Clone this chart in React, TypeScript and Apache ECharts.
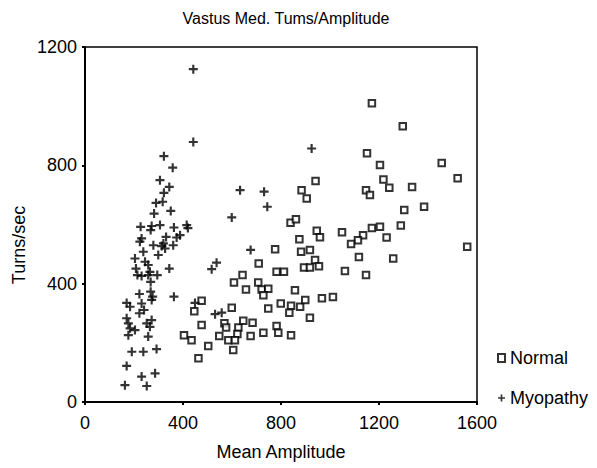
import React, { useEffect, useRef } from "react";
import * as echarts from "echarts";

const titleText = "Vastus Med. Tums/Amplitude";
const xName = "Mean Amplitude";
const yName = "Turns/sec";
const xTicks = [0, 400, 800, 1200, 1600];
const yTicks = [0, 400, 800, 1200];

const normal: number[][] = [
  [941, 747], [884, 716], [905, 688], [839, 606], [861, 618], [946, 579],
  [875, 550], [882, 508], [918, 514], [939, 480], [894, 455], [918, 455],
  [776, 516], [709, 468], [782, 440], [812, 440], [643, 429], [608, 404],
  [707, 404], [657, 380], [721, 380], [748, 383], [728, 361], [857, 378],
  [476, 342], [446, 307], [599, 319], [748, 316], [799, 333], [841, 325],
  [834, 302], [878, 322], [899, 345], [918, 285], [476, 260], [569, 266],
  [576, 252], [626, 252], [646, 275], [684, 268], [782, 257], [789, 234],
  [841, 226], [728, 234], [676, 223], [622, 230], [548, 223], [404, 226],
  [435, 209], [503, 189], [585, 209], [612, 209], [605, 176], [463, 148],
  [1297, 932], [1456, 808], [1521, 756], [1218, 752], [1242, 724], [1335, 727],
  [1204, 801], [1303, 649], [1384, 660], [1289, 597], [1231, 556], [1560, 525],
  [1258, 485], [1171, 1010], [1151, 841], [1147, 716], [1163, 700], [1171, 588],
  [1135, 564], [1114, 547], [1049, 574], [1086, 534], [1118, 490], [1061, 443],
  [1147, 429], [959, 557], [1012, 355], [967, 351], [955, 459], [1204, 592],
];

const myopathy: number[][] = [
  [442, 1125], [442, 879], [322, 831], [358, 792], [306, 750], [344, 727],
  [322, 707], [317, 677], [290, 673], [282, 637], [350, 646], [227, 592],
  [272, 595], [306, 598], [268, 581], [363, 590], [415, 598], [420, 588],
  [231, 553], [224, 542], [331, 558], [388, 564], [374, 556], [279, 530],
  [313, 527], [327, 519], [360, 530], [320, 536], [299, 497], [238, 508],
  [204, 485], [245, 474], [208, 451], [258, 463], [214, 429], [231, 426],
  [258, 429], [265, 440], [295, 429], [344, 451], [268, 406], [222, 365],
  [268, 373], [276, 356], [272, 345], [363, 356], [170, 335], [184, 322],
  [231, 333], [222, 300], [241, 311], [170, 283], [177, 266], [184, 249],
  [204, 243], [177, 226], [252, 266], [272, 277], [265, 254], [258, 221],
  [191, 170], [238, 170], [292, 179], [170, 122], [286, 97], [231, 86],
  [163, 57], [252, 54], [925, 857], [633, 716], [731, 711], [744, 660],
  [599, 624], [676, 514], [537, 471], [517, 449], [449, 335], [531, 297],
  [558, 302],
];

const FONT = "'Liberation Sans', Arial, Helvetica, sans-serif";
const PLUS = "path://M3.8,0L6.2,0L6.2,3.8L10,3.8L10,6.2L6.2,6.2L6.2,10L3.8,10L3.8,6.2L0,6.2L0,3.8L3.8,3.8Z";

export default function App() {
  const ref = useRef<HTMLDivElement>(null);
  useEffect(() => {
    document.body.style.margin = "0";
    if (!ref.current) return;
    const chart = echarts.init(ref.current, null, { renderer: "svg" });
    chart.setOption({
      animation: false,
      backgroundColor: "#fff",
      grid: {
        left: 85, right: 120, top: 47, bottom: 66,
        show: true, borderColor: "#000", borderWidth: 1.5,
      },
      xAxis: {
        type: "value",
        min: xTicks[0], max: xTicks[xTicks.length - 1], interval: 400,
        axisLine: { show: true, lineStyle: { color: "#000", width: 2 } },
        axisTick: { show: true, length: 3, lineStyle: { color: "#000", width: 2 } },
        axisLabel: { color: "#000", fontSize: 18, fontFamily: FONT, margin: 12, formatter: (v: number) => String(v) },
        splitLine: { show: false },
      },
      yAxis: {
        type: "value",
        min: yTicks[0], max: yTicks[yTicks.length - 1], interval: 400,
        axisLine: { show: true, lineStyle: { color: "#000", width: 2 } },
        axisTick: { show: true, length: 3, lineStyle: { color: "#000", width: 2 } },
        axisLabel: { color: "#000", fontSize: 18, fontFamily: FONT, margin: 8, formatter: (v: number) => String(v) },
        splitLine: { show: false },
      },
      legend: {
        orient: "vertical", left: 492, top: 344, itemGap: 22,
        itemWidth: 7, itemHeight: 8,
        textStyle: { color: "#000", fontSize: 18, fontFamily: FONT },
        data: [
          { name: "Normal", icon: "rect" },
          { name: "Myopathy", icon: PLUS },
        ],
      },
      graphic: [
        {
          type: "text", x: 286, y: 18,
          style: { text: titleText, fill: "#000", font: `16px ${FONT}`, align: "center", verticalAlign: "middle" },
        },
        {
          type: "text", x: 281, y: 452,
          style: { text: xName, fill: "#000", font: `18px ${FONT}`, align: "center", verticalAlign: "middle" },
        },
        {
          type: "text", x: 19, y: 245, rotation: Math.PI / 2,
          style: { text: yName, fill: "#000", font: `18px ${FONT}`, align: "center", verticalAlign: "middle" },
        },
      ],
      series: [
        {
          name: "Normal", type: "scatter", data: normal,
          symbol: "rect", symbolSize: 6.5,
          itemStyle: { color: "#fff", borderColor: "#000", borderWidth: 2 },
        },
        {
          name: "Myopathy", type: "scatter", data: myopathy,
          symbol: PLUS, symbolSize: 9,
          itemStyle: { color: "#000" },
        },
      ],
    });
    return () => chart.dispose();
  }, []);
  return <div ref={ref} style={{ width: 597, height: 468 }} />;
}
